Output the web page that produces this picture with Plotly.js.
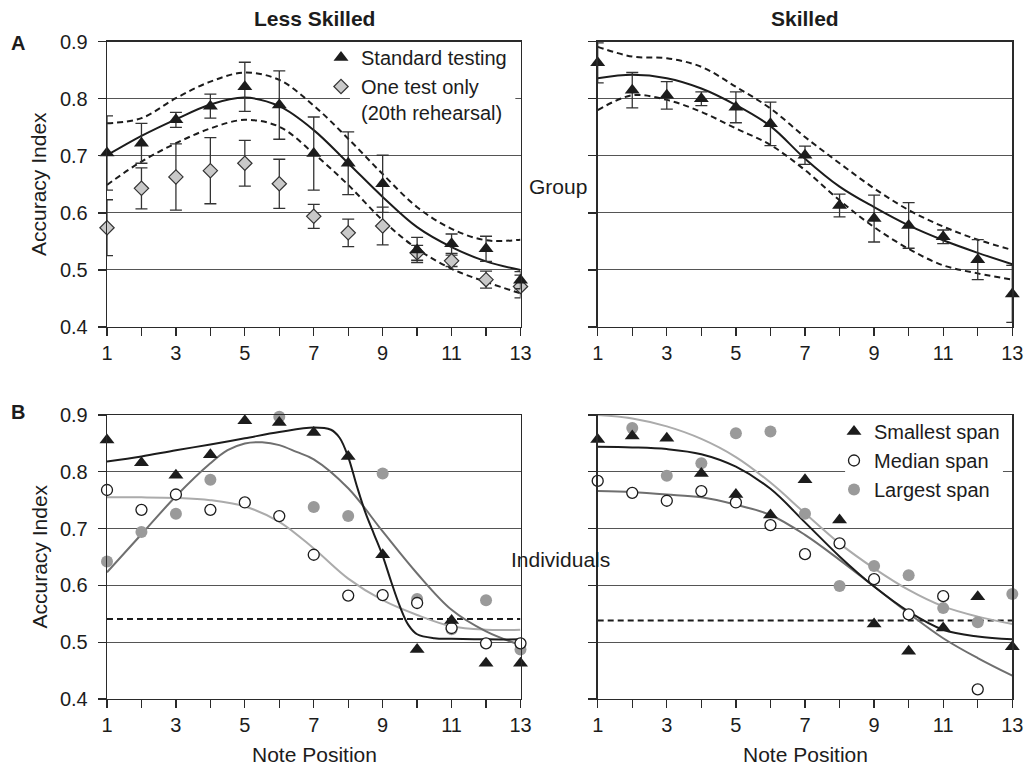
<!DOCTYPE html>
<html>
<head>
<meta charset="utf-8">
<script src="https://cdn.plot.ly/plotly-3.0.1.min.js"></script>
<style>
  html, body { margin: 0; padding: 0; background: #fff; }
  #chart { width: 1027px; height: 767px; }
</style>
</head>
<body>
<div id="chart"></div>
<script>
// ---------- data ----------
const notePos = [1, 2, 3, 4, 5, 6, 7, 8, 9, 10, 11, 12, 13];
const xTickText = ['1', '', '3', '', '5', '', '7', '', '9', '', '11', '', '13'];
const yTicks = [0.4, 0.5, 0.6, 0.7, 0.8, 0.9];

// A – Group, Less Skilled
const lsStd      = [0.705, 0.722, 0.763, 0.787, 0.821, 0.789, 0.704, 0.687, 0.651, 0.535, 0.546, 0.537, 0.482];
const lsStdErr   = [0.065, 0.035, 0.013, 0.021, 0.043, 0.060, 0.064, 0.055, 0.050, 0.022, 0.017, 0.022, 0.015];
const lsOne      = [0.574, 0.643, 0.663, 0.674, 0.687, 0.651, 0.594, 0.565, 0.577, 0.530, 0.516, 0.483, 0.471];
const lsOneErr   = [0.049, 0.036, 0.058, 0.058, 0.040, 0.043, 0.021, 0.024, 0.033, 0.013, 0.010, 0.015, 0.020];
const lsFit      = [0.701, 0.735, 0.764, 0.790, 0.802, 0.787, 0.745, 0.687, 0.628, 0.575, 0.540, 0.515, 0.500];
const lsFitUpper = [0.757, 0.766, 0.801, 0.830, 0.846, 0.833, 0.788, 0.730, 0.668, 0.610, 0.572, 0.552, 0.553];
const lsFitLower = [0.649, 0.690, 0.722, 0.748, 0.763, 0.751, 0.704, 0.649, 0.587, 0.537, 0.502, 0.479, 0.459];

// A – Group, Skilled
const skStd      = [0.863, 0.815, 0.806, 0.800, 0.785, 0.756, 0.701, 0.613, 0.590, 0.578, 0.558, 0.518, 0.458];
const skStdErr   = [0.035, 0.031, 0.024, 0.012, 0.027, 0.038, 0.016, 0.020, 0.041, 0.040, 0.012, 0.035, 0.050];
const skFit      = [0.836, 0.842, 0.836, 0.818, 0.789, 0.752, 0.695, 0.646, 0.610, 0.578, 0.552, 0.530, 0.510];
const skFitUpper = [0.891, 0.874, 0.871, 0.856, 0.821, 0.783, 0.733, 0.687, 0.643, 0.605, 0.576, 0.553, 0.535];
const skFitLower = [0.780, 0.806, 0.798, 0.777, 0.748, 0.719, 0.675, 0.622, 0.575, 0.537, 0.508, 0.494, 0.483];

// B – Individuals, Less Skilled
const lsSmallest = [0.856, 0.816, 0.794, 0.830, 0.890, 0.887, 0.869, 0.827, 0.654, 0.487, 0.538, 0.463, 0.463];
const lsMedian   = [0.768, 0.733, 0.760, 0.733, 0.746, 0.722, 0.654, 0.582, 0.583, 0.569, 0.525, 0.498, 0.498];
const lsLargest  = [0.642, 0.694, 0.726, 0.786, null,  0.897, 0.738, 0.722, 0.797, 0.576, 0.523, 0.574, 0.487];
const lsChance   = 0.541;
const lsSmallFitX = [1, 2, 3, 4, 5, 6, 7, 7.5, 7.75, 8, 8.25, 8.5, 8.75, 9, 9.25, 9.5, 9.75, 10, 10.5, 11, 12, 13];
const lsSmallFitY = [0.818, 0.827, 0.838, 0.848, 0.859, 0.870, 0.878, 0.874, 0.860, 0.826, 0.775, 0.728, 0.690, 0.652, 0.606, 0.563, 0.530, 0.514, 0.507, 0.506, 0.505, 0.505];
const lsLargeFitX = [1, 2, 3, 4, 4.5, 5, 5.5, 6, 6.5, 7, 8, 9, 10, 11, 12, 13];
const lsLargeFitY = [0.623, 0.690, 0.757, 0.815, 0.838, 0.850, 0.852, 0.847, 0.835, 0.822, 0.771, 0.695, 0.621, 0.557, 0.519, 0.495];
const lsMedFitY   = [0.755, 0.755, 0.754, 0.750, 0.739, 0.712, 0.665, 0.612, 0.574, 0.548, 0.528, 0.522, 0.522];

// B – Individuals, Skilled
const skSmallest = [0.857, 0.863, 0.859, 0.797, 0.760, 0.724, 0.786, 0.715, 0.532, 0.484, 0.525, 0.580, 0.492];
const skMedian   = [0.784, 0.763, 0.749, 0.766, 0.746, 0.706, 0.655, 0.674, 0.611, 0.549, 0.581, 0.417, null];
const skLargest  = [null,  0.877, 0.793, 0.815, 0.868, 0.871, 0.726, 0.599, 0.634, 0.618, 0.560, 0.535, 0.585];
const skChance   = 0.538;
const skSmallFitY = [0.844, 0.843, 0.840, 0.831, 0.809, 0.770, 0.711, 0.651, 0.598, 0.554, 0.522, 0.510, 0.505];
const skLightFitY = [0.900, 0.894, 0.880, 0.858, 0.826, 0.781, 0.727, 0.674, 0.630, 0.592, 0.563, 0.545, 0.532];
const skDarkFitY  = [0.766, 0.764, 0.760, 0.755, 0.742, 0.724, 0.689, 0.645, 0.598, 0.551, 0.507, 0.472, 0.441];

// ---------- styles ----------
const FONT = 'Liberation Sans, Arial, Helvetica, sans-serif';
const INK = '#1c1c1c';
const DARKGREY = '#6f6f6f';
const LIGHTGREY = '#ababab';
const DOTGREY = '#9a9a9a';
const DASH = '6px,4px';

const errStyle = (arr) => ({type: 'data', array: arr, visible: true, color: '#333', thickness: 1.3, width: 6});
const lineTrace = (x, y, xa, ya, color, dash) => ({
  x: x, y: y, xaxis: xa, yaxis: ya, mode: 'lines', type: 'scatter', showlegend: false,
  hoverinfo: 'skip', cliponaxis: false,
  line: {color: color, width: 2, dash: dash || 'solid', shape: 'spline', smoothing: 1}
});
const triMarker = {symbol: 'triangle-up', size: 13, color: INK, line: {width: 0}};
const openMarker = {symbol: 'circle', size: 11, color: '#fff', line: {color: INK, width: 1.3}};
const greyMarker = {symbol: 'circle', size: 12, color: DOTGREY, line: {width: 0}};
const diaMarker = {symbol: 'diamond', size: 11, color: '#c9c9c9', line: {color: '#333', width: 1.2}};

const first = notePos[0], last = notePos[notePos.length - 1];

const traces = [
  // ---- A left ----
  lineTrace(notePos, lsFitUpper, 'x', 'y', INK, DASH),
  lineTrace(notePos, lsFitLower, 'x', 'y', INK, DASH),
  lineTrace(notePos, lsFit, 'x', 'y', INK),
  {x: notePos, y: lsOne, xaxis: 'x', yaxis: 'y', type: 'scatter', mode: 'markers', name: 'One test only<br>(20th rehearsal)',
   marker: diaMarker, error_y: errStyle(lsOneErr), cliponaxis: false, legend: 'legend', legendrank: 2},
  {x: notePos, y: lsStd, xaxis: 'x', yaxis: 'y', type: 'scatter', mode: 'markers', name: 'Standard testing',
   marker: triMarker, error_y: errStyle(lsStdErr), cliponaxis: false, legend: 'legend', legendrank: 1},

  // ---- A right ----
  lineTrace(notePos, skFitUpper, 'x2', 'y2', INK, DASH),
  lineTrace(notePos, skFitLower, 'x2', 'y2', INK, DASH),
  lineTrace(notePos, skFit, 'x2', 'y2', INK),
  {x: notePos, y: skStd, xaxis: 'x2', yaxis: 'y2', type: 'scatter', mode: 'markers', showlegend: false,
   marker: triMarker, error_y: errStyle(skStdErr), cliponaxis: false},

  // ---- B left ----
  {x: [first, last], y: [lsChance, lsChance], xaxis: 'x3', yaxis: 'y3', type: 'scatter', mode: 'lines',
   showlegend: false, hoverinfo: 'skip', line: {color: INK, width: 2, dash: DASH}},
  lineTrace(notePos, lsMedFitY, 'x3', 'y3', LIGHTGREY),
  lineTrace(lsLargeFitX, lsLargeFitY, 'x3', 'y3', DARKGREY),
  lineTrace(lsSmallFitX, lsSmallFitY, 'x3', 'y3', INK),
  {x: notePos, y: lsLargest, xaxis: 'x3', yaxis: 'y3', type: 'scatter', mode: 'markers', showlegend: false,
   marker: greyMarker, cliponaxis: false},
  {x: notePos, y: lsMedian, xaxis: 'x3', yaxis: 'y3', type: 'scatter', mode: 'markers', showlegend: false,
   marker: openMarker, cliponaxis: false},
  {x: notePos, y: lsSmallest, xaxis: 'x3', yaxis: 'y3', type: 'scatter', mode: 'markers', showlegend: false,
   marker: triMarker, cliponaxis: false},

  // ---- B right ----
  {x: [first, last], y: [skChance, skChance], xaxis: 'x4', yaxis: 'y4', type: 'scatter', mode: 'lines',
   showlegend: false, hoverinfo: 'skip', line: {color: INK, width: 2, dash: DASH}},
  lineTrace(notePos, skLightFitY, 'x4', 'y4', LIGHTGREY),
  lineTrace(notePos, skDarkFitY, 'x4', 'y4', DARKGREY),
  lineTrace(notePos, skSmallFitY, 'x4', 'y4', INK),
  {x: notePos, y: skLargest, xaxis: 'x4', yaxis: 'y4', type: 'scatter', mode: 'markers', name: 'Largest span',
   marker: greyMarker, cliponaxis: false, legend: 'legend2', legendrank: 3},
  {x: notePos, y: skMedian, xaxis: 'x4', yaxis: 'y4', type: 'scatter', mode: 'markers', name: 'Median span',
   marker: openMarker, cliponaxis: false, legend: 'legend2', legendrank: 2},
  {x: notePos, y: skSmallest, xaxis: 'x4', yaxis: 'y4', type: 'scatter', mode: 'markers', name: 'Smallest span',
   marker: triMarker, cliponaxis: false, legend: 'legend2', legendrank: 1}
];

// ---------- layout ----------
const W = 1027, H = 767;
const px = (v) => v / W;
const py = (v) => 1 - v / H;

const xDomL = [px(107), px(520.5)];
const xDomR = [px(597.7), px(1012.3)];
const yDomA = [py(327), py(41.7)];
const yDomB = [py(699), py(415)];

const xAxisBase = (domain, anchor) => ({
  domain: domain, anchor: anchor, range: [first, last], fixedrange: true,
  showgrid: false, zeroline: false,
  showline: true, mirror: true, linecolor: '#2a2a2a', linewidth: 1.3,
  ticks: 'outside', ticklen: 8, tickwidth: 1.3, tickcolor: '#2a2a2a',
  tickmode: 'array', tickvals: notePos, ticktext: xTickText,
  tickfont: {family: FONT, size: 20, color: INK}
});
const yAxisBase = (domain, anchor, labels) => ({
  domain: domain, anchor: anchor, range: [0.4, 0.9], fixedrange: true,
  showgrid: true, gridcolor: '#555', gridwidth: 1, zeroline: false,
  showline: true, mirror: true, linecolor: '#2a2a2a', linewidth: 1.3,
  ticks: 'outside', ticklen: 8, tickwidth: 1.3, tickcolor: '#2a2a2a',
  tickmode: 'array', tickvals: yTicks, tickformat: '.1f',
  showticklabels: labels, ticklabelstandoff: 6,
  tickfont: {family: FONT, size: 20, color: INK}
});

const ann = (text, x, y, opts) => Object.assign({
  text: text, xref: 'paper', yref: 'paper', x: px(x), y: py(y),
  xanchor: 'center', yanchor: 'middle', showarrow: false,
  font: {family: FONT, size: 21, color: INK}
}, opts || {});

const layout = {
  width: W, height: H,
  margin: {l: 0, r: 0, t: 0, b: 0},
  paper_bgcolor: '#fff', plot_bgcolor: '#fff',
  font: {family: FONT, color: INK},
  xaxis: xAxisBase(xDomL, 'y'),
  yaxis: yAxisBase(yDomA, 'x', true),
  xaxis2: xAxisBase(xDomR, 'y2'),
  yaxis2: yAxisBase(yDomA, 'x2', false),
  xaxis3: xAxisBase(xDomL, 'y3'),
  yaxis3: yAxisBase(yDomB, 'x3', true),
  xaxis4: xAxisBase(xDomR, 'y4'),
  yaxis4: yAxisBase(yDomB, 'x4', false),
  legend: {
    x: px(321), y: py(38), xanchor: 'left', yanchor: 'top', valign: 'top',
    bgcolor: 'rgba(0,0,0,0)', borderwidth: 0, tracegroupgap: 0,
    font: {family: FONT, size: 20, color: INK}, itemclick: false, itemdoubleclick: false
  },
  legend2: {
    x: px(834), y: py(412), xanchor: 'left', yanchor: 'top',
    bgcolor: 'rgba(0,0,0,0)', borderwidth: 0, tracegroupgap: 0,
    font: {family: FONT, size: 20, color: INK}, itemclick: false, itemdoubleclick: false
  },
  shapes: [
    {type: 'rect', xref: 'x', yref: 'y', x0: 8.05, x1: 12.85, y0: 0.765, y1: 0.895,
     fillcolor: '#fff', line: {width: 0}, layer: 'between'},
    {type: 'rect', xref: 'x4', yref: 'y4', x0: 8.16, x1: 12.73, y0: 0.765, y1: 0.895,
     fillcolor: '#fff', line: {width: 0}, layer: 'between'}
  ],
  annotations: [
    ann('<b>Less Skilled</b>', 314, 18),
    ann('<b>Skilled</b>', 805, 18),
    ann('<b>A</b>', 18, 42.5, {font: {family: FONT, size: 20, color: INK}}),
    ann('<b>B</b>', 18, 412, {font: {family: FONT, size: 20, color: INK}}),
    ann('Accuracy Index', 38.5, 184.5, {textangle: -90}),
    ann('Accuracy Index', 38.5, 557, {textangle: -90}),
    ann('Group', 558, 186),
    ann('Individuals', 560, 559),
    ann('Note Position', 314, 754),
    ann('Note Position', 805, 754)
  ]
};

Plotly.newPlot('chart', traces, layout, {staticPlot: true, displayModeBar: false});
</script>
</body>
</html>
